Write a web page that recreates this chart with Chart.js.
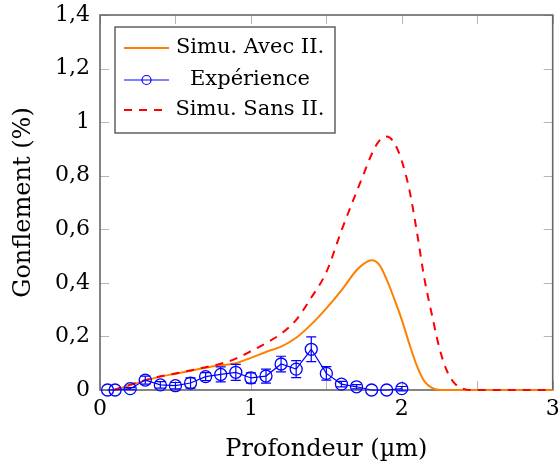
<!DOCTYPE html>
<html>
<head>
<meta charset="utf-8">
<script src="https://cdn.jsdelivr.net/npm/chart.js@4.4.0/dist/chart.umd.min.js"></script>
<style>
  html, body { margin: 0; padding: 0; background: #fff; }
</style>
</head>
<body>
<canvas id="chart" width="560" height="468"></canvas>
<script>
// ---- data ----
const expDepth    = [0.05, 0.1, 0.2, 0.3, 0.4, 0.5, 0.6, 0.7, 0.8, 0.9, 1.0, 1.1, 1.2, 1.3, 1.4, 1.5, 1.6, 1.7, 1.8, 1.9, 2.0];
const expSwelling = [0, 0, 0.005, 0.037, 0.019, 0.016, 0.026, 0.05, 0.058, 0.066, 0.045, 0.052, 0.097, 0.078, 0.152, 0.062, 0.022, 0.012, 0, 0, 0.005];
const expError    = [0, 0, 0.004, 0.015, 0.012, 0.012, 0.019, 0.015, 0.028, 0.03, 0.019, 0.026, 0.029, 0.032, 0.046, 0.025, 0.01, 0.008, 0, 0, 0.008];

const avecDepth    = [0.09, 0.2, 0.3, 0.4, 0.5, 0.6, 0.7, 0.8, 0.9, 1.0, 1.1, 1.2, 1.3, 1.4, 1.5, 1.6, 1.7, 1.75, 1.8, 1.85, 1.9, 1.95, 2.0, 2.05, 2.1, 2.15, 2.2, 2.26, 2.5, 3.0];
const avecSwelling = [0, 0.018, 0.036, 0.05, 0.061, 0.072, 0.083, 0.092, 0.1, 0.12, 0.142, 0.162, 0.195, 0.245, 0.305, 0.372, 0.447, 0.472, 0.484, 0.468, 0.412, 0.34, 0.262, 0.172, 0.09, 0.032, 0.008, 0, 0, 0];

const sansDepth    = [0.09, 0.2, 0.3, 0.4, 0.5, 0.6, 0.7, 0.8, 0.9, 1.0, 1.1, 1.2, 1.3, 1.4, 1.5, 1.6, 1.7, 1.75, 1.8, 1.85, 1.9, 1.95, 2.0, 2.05, 2.1, 2.15, 2.2, 2.25, 2.3, 2.35, 2.4, 2.45, 2.7, 3.0];
const sansSwelling = [0, 0.02, 0.037, 0.051, 0.062, 0.073, 0.085, 0.098, 0.117, 0.145, 0.175, 0.21, 0.262, 0.345, 0.44, 0.595, 0.74, 0.81, 0.88, 0.93, 0.946, 0.922, 0.855, 0.748, 0.59, 0.415, 0.28, 0.155, 0.07, 0.025, 0.006, 0, 0, 0];

const xTickLabels = ['0', '', '1', '', '2', '', '3'];
const yTickLabels = ['0', '0,2', '0,4', '0,6', '0,8', '1', '1,2', '1,4'];
const seriesNames = ['Simu. Avec II.', 'Expérience', 'Simu. Sans II.'];

const FONT = 'DejaVu Serif';
const ORANGE = '#ff8000', BLUE = '#0000ff', RED = '#ff0000';

function toPoints(xs, ys) {
  return xs.map((x, i) => ({ x: x, y: ys[i] }));
}

// frame + inward ticks on all four sides (drawn under the curves)
const framePlugin = {
  id: 'frame',
  beforeDatasetsDraw(chart) {
    const { ctx, chartArea: a, scales: { x, y } } = chart;
    ctx.save();
    ctx.strokeStyle = '#b5b5b5';
    ctx.lineWidth = 1;
    ctx.beginPath();
    x.ticks.forEach(t => {
      const px = Math.round(x.getPixelForValue(t.value)) + 0.5;
      ctx.moveTo(px, a.bottom); ctx.lineTo(px, a.bottom - 9);
      ctx.moveTo(px, a.top); ctx.lineTo(px, a.top + 9);
    });
    y.ticks.forEach(t => {
      const py = Math.round(y.getPixelForValue(t.value)) + 0.5;
      ctx.moveTo(a.left, py); ctx.lineTo(a.left + 9, py);
      ctx.moveTo(a.right, py); ctx.lineTo(a.right - 9, py);
    });
    ctx.stroke();
    ctx.strokeStyle = '#666';
    ctx.lineWidth = 1.6;
    ctx.strokeRect(a.left, a.top, a.right - a.left, a.bottom - a.top);
    ctx.restore();
  }
};

// vertical error bars for the experiment
const errorBarPlugin = {
  id: 'errorBars',
  afterDatasetsDraw(chart) {
    const { ctx, scales: { x, y } } = chart;
    ctx.save();
    ctx.strokeStyle = BLUE;
    ctx.lineWidth = 1.2;
    ctx.beginPath();
    expDepth.forEach((d, i) => {
      if (!expError[i]) return;
      const px = x.getPixelForValue(d);
      const top = y.getPixelForValue(expSwelling[i] + expError[i]);
      const bot = y.getPixelForValue(expSwelling[i] - expError[i]);
      ctx.moveTo(px, top); ctx.lineTo(px, bot);
      ctx.moveTo(px - 5, top); ctx.lineTo(px + 5, top);
      ctx.moveTo(px - 5, bot); ctx.lineTo(px + 5, bot);
    });
    ctx.stroke();
    ctx.restore();
  }
};

// boxed legend in the top-left corner, text centred like pgfplots
const legendPlugin = {
  id: 'boxLegend',
  afterDraw(chart) {
    const { ctx, chartArea: a } = chart;
    const left = a.left + 15, top = a.top + 12, w = 220, h = 106;
    ctx.save();
    ctx.fillStyle = '#fff';
    ctx.fillRect(left, top, w, h);
    ctx.strokeStyle = '#555';
    ctx.lineWidth = 1.4;
    ctx.strokeRect(left, top, w, h);

    const rows = [top + 21, top + 53, top + 83];
    const styles = [
      { color: ORANGE, dash: [], marker: false },
      { color: BLUE, dash: [], marker: true },
      { color: RED, dash: [8, 7], marker: false }
    ];
    rows.forEach((ry, i) => {
      const s = styles[i];
      ctx.strokeStyle = s.color;
      ctx.lineWidth = s.marker ? 1.2 : 2;
      ctx.setLineDash(s.dash);
      ctx.beginPath();
      ctx.moveTo(left + 9, ry); ctx.lineTo(left + 54, ry);
      ctx.stroke();
      ctx.setLineDash([]);
      if (s.marker) {
        ctx.beginPath();
        ctx.arc(left + 31.5, ry, 4.5, 0, Math.PI * 2);
        ctx.stroke();
      }
      ctx.fillStyle = '#000';
      ctx.font = '21px "' + FONT + '"';
      ctx.textAlign = 'center';
      ctx.textBaseline = 'middle';
      ctx.fillText(seriesNames[i], left + 135, ry);
    });
    ctx.restore();
  }
};

new Chart(document.getElementById('chart'), {
  type: 'line',
  data: {
    datasets: [
      {
        label: seriesNames[1],
        data: toPoints(expDepth, expSwelling),
        borderColor: BLUE,
        borderWidth: 1.2,
        pointRadius: 6,
        pointBorderWidth: 1.3,
        pointBackgroundColor: 'rgba(0,0,0,0)',
        pointBorderColor: BLUE,
        tension: 0,
        clip: false
      },
      {
        label: seriesNames[2],
        data: toPoints(sansDepth, sansSwelling),
        borderColor: RED,
        borderWidth: 2,
        borderDash: [8, 7],
        pointRadius: 0,
        cubicInterpolationMode: 'monotone',
        clip: false
      },
      {
        label: seriesNames[0],
        data: toPoints(avecDepth, avecSwelling),
        borderColor: ORANGE,
        borderWidth: 2,
        pointRadius: 0,
        cubicInterpolationMode: 'monotone',
        clip: false
      }
    ]
  },
  options: {
    responsive: false,
    animation: false,
    devicePixelRatio: 1,
    layout: { padding: { top: 15, right: 4, left: 0, bottom: 0 } },
    plugins: { legend: { display: false }, tooltip: { enabled: false } },
    scales: {
      x: {
        type: 'linear',
        min: 0, max: 3,
        afterFit(s) { s.height = 78; s.paddingLeft = 0; s.paddingRight = 0; },
        ticks: {
          stepSize: 0.5,
          padding: 6,
          color: '#000',
          font: { family: FONT, size: 22 },
          maxRotation: 0,
          autoSkip: false,
          callback: (v, i) => xTickLabels[i]
        },
        grid: { display: false, drawTicks: false },
        border: { display: false },
        title: {
          display: true,
          text: 'Profondeur (µm)',
          color: '#000',
          font: { family: FONT, size: 24, lineHeight: 1 },
          padding: { top: 0, bottom: 6 }
        }
      },
      y: {
        type: 'linear',
        min: 0, max: 1.4,
        afterFit(s) { s.width = 100; s.paddingTop = 0; s.paddingBottom = 0; },
        ticks: {
          stepSize: 0.2,
          padding: 10,
          color: '#000',
          font: { family: FONT, size: 22 },
          autoSkip: false,
          callback: (v, i) => yTickLabels[i]
        },
        grid: { display: false, drawTicks: false },
        border: { display: false },
        title: {
          display: true,
          text: 'Gonflement (%)',
          color: '#000',
          font: { family: FONT, size: 24, lineHeight: 1 },
          padding: { top: 12, bottom: 0 }
        }
      }
    }
  },
  plugins: [framePlugin, errorBarPlugin, legendPlugin]
});
</script>
</body>
</html>
